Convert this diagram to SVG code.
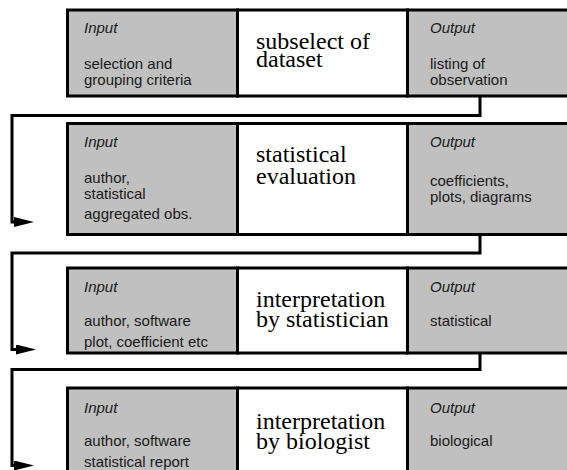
<svg xmlns="http://www.w3.org/2000/svg" width="567" height="470" viewBox="0 0 567 470">
  <defs>
    <style>
      .cell { fill: #c0c0c0; stroke: #000; stroke-width: 3; }
      .core { fill: #fff; stroke: #000; stroke-width: 3; }
      .head { font-family: "Liberation Sans", Arial, sans-serif; font-style: italic; font-size: 15px; fill: #1a1a1a; }
      .item { font-family: "Liberation Sans", Arial, sans-serif; font-size: 15px; fill: #1a1a1a; }
      .step { font-family: "Liberation Serif", "Times New Roman", serif; font-size: 24px; fill: #000; }
      .flow { fill: none; stroke: #000; stroke-width: 3; }
    </style>
    <marker id="arrow" viewBox="0 0 20 10" refX="2" refY="5" markerWidth="20" markerHeight="10" markerUnits="userSpaceOnUse" orient="auto">
      <path d="M0,0 L20,5 L0,10 Z" fill="#000"/>
    </marker>
  </defs>

  <rect width="567" height="470" fill="#fff"/>

  <!-- step 1 -->
  <g id="step1">
    <rect class="cell" x="67.5" y="10" width="170" height="86"/>
    <rect class="core" x="237.5" y="10" width="170" height="86"/>
    <rect class="cell" x="407.5" y="10" width="180" height="86"/>
    <text class="head" x="84" y="33">Input</text>
    <text class="item"><tspan x="84" y="68.5">selection and</tspan><tspan x="84" y="85">grouping criteria</tspan></text>
    <text class="step"><tspan x="256" y="48.5">subselect of</tspan><tspan x="256" y="67">dataset</tspan></text>
    <text class="head" x="430" y="33">Output</text>
    <text class="item"><tspan x="430" y="68.5">listing of</tspan><tspan x="430" y="85">observation</tspan></text>
  </g>

  <!-- step 2 -->
  <g id="step2">
    <rect class="cell" x="67.5" y="123.5" width="170" height="111"/>
    <rect class="core" x="237.5" y="123.5" width="170" height="111"/>
    <rect class="cell" x="407.5" y="123.5" width="180" height="111"/>
    <text class="head" x="84" y="146.5">Input</text>
    <text class="item"><tspan x="84" y="183">author,</tspan><tspan x="84" y="198.5">statistical</tspan><tspan x="84" y="218.5">aggregated obs.</tspan></text>
    <text class="step"><tspan x="256" y="162">statistical</tspan><tspan x="256" y="184">evaluation</tspan></text>
    <text class="head" x="430" y="146.5">Output</text>
    <text class="item"><tspan x="430" y="186">coefficients,</tspan><tspan x="430" y="202">plots, diagrams</tspan></text>
  </g>

  <!-- step 3 -->
  <g id="step3">
    <rect class="cell" x="67.5" y="268" width="170" height="85"/>
    <rect class="core" x="237.5" y="268" width="170" height="85"/>
    <rect class="cell" x="407.5" y="268" width="180" height="85"/>
    <text class="head" x="84" y="291.5">Input</text>
    <text class="item"><tspan x="84" y="325.5">author, software</tspan><tspan x="84" y="346.5">plot, coefficient etc</tspan></text>
    <text class="step"><tspan x="256" y="307">interpretation</tspan><tspan x="256" y="327">by statistician</tspan></text>
    <text class="head" x="430" y="291.5">Output</text>
    <text class="item" x="430" y="325.5">statistical</text>
  </g>

  <!-- step 4 -->
  <g id="step4">
    <rect class="cell" x="67.5" y="388" width="170" height="100"/>
    <rect class="core" x="237.5" y="388" width="170" height="100"/>
    <rect class="cell" x="407.5" y="388" width="180" height="100"/>
    <text class="head" x="84" y="412.5">Input</text>
    <text class="item"><tspan x="84" y="446">author, software</tspan><tspan x="84" y="467">statistical report</tspan></text>
    <text class="step"><tspan x="256" y="429">interpretation</tspan><tspan x="256" y="449">by biologist</tspan></text>
    <text class="head" x="430" y="412.5">Output</text>
    <text class="item" x="430" y="446">biological</text>
  </g>

  <!-- connectors between steps -->
  <g id="connectors">
    <path class="flow" d="M480,96 V115.5 H12 V222 H16" marker-end="url(#arrow)"/>
    <path class="flow" d="M480,234.5 V253 H12 V349.5 H18" marker-end="url(#arrow)"/>
    <path class="flow" d="M480,353 V369.5 H12 V465.5 H16" marker-end="url(#arrow)"/>
  </g>
</svg>
